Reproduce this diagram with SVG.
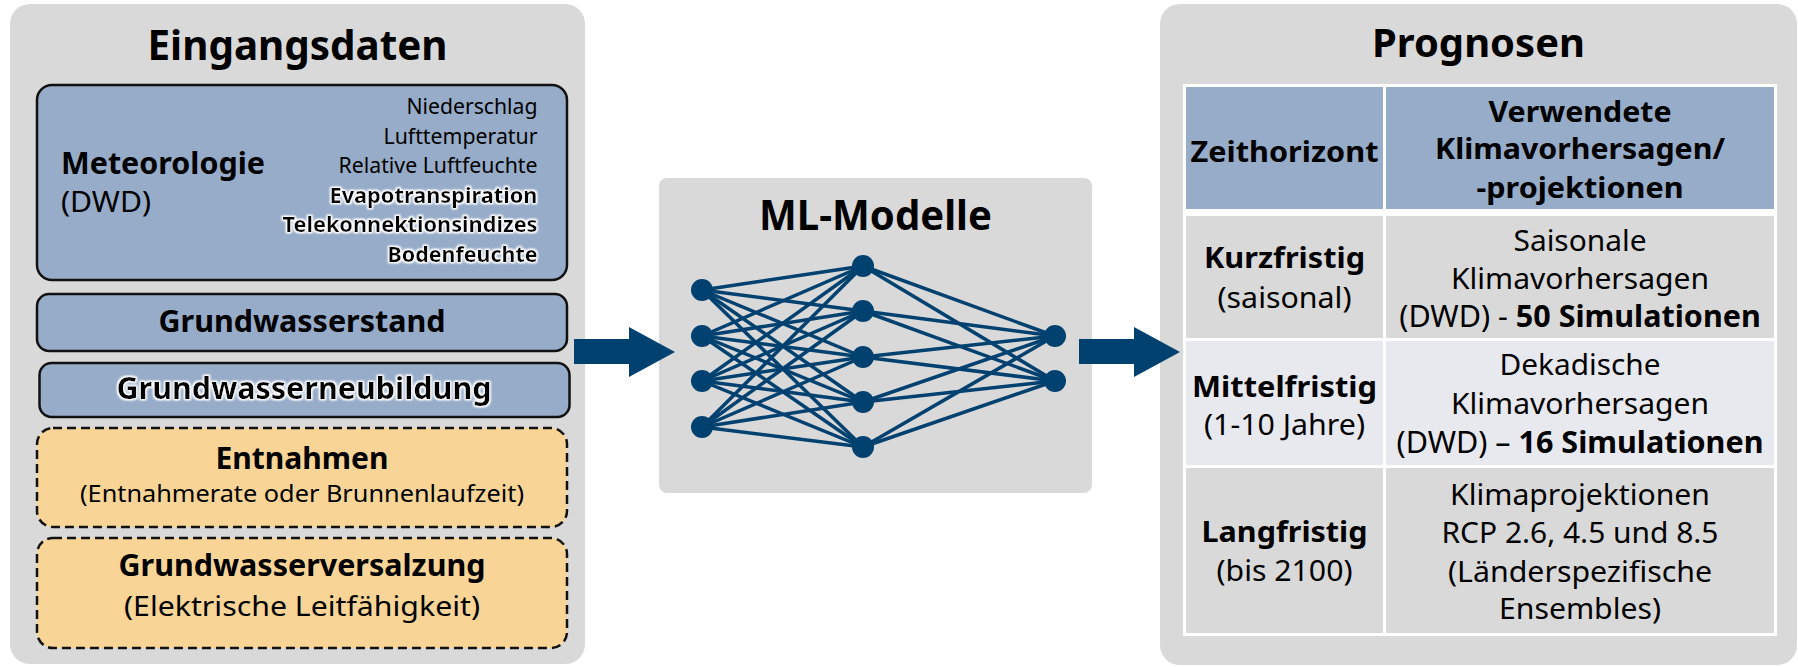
<svg xmlns="http://www.w3.org/2000/svg" width="1798" height="667" viewBox="0 0 1798 667">
<defs>
<style>
.panel{fill:#d9d9d9}
.blue{fill:#97acc8;stroke:#111;stroke-width:2.5}
.orange{fill:#f8d597;stroke:#111;stroke-width:2.5;stroke-dasharray:9 5}
text{font-family:"Noto Sans","Open Sans","Liberation Sans",sans-serif;fill:#000}
.b{font-weight:bold}
.t{font-size:29px}
.m{text-anchor:middle}
.e{text-anchor:end}
.s{font-size:21.5px}
.nn line{stroke:#00416f;stroke-width:3.5}
.nn circle{fill:#00416f}
.arrow{fill:#00416f}
</style>
<filter id="glow" x="-10%" y="-30%" width="120%" height="160%">
<feMorphology in="SourceAlpha" operator="dilate" radius="1" result="d"/>
<feGaussianBlur in="d" stdDeviation="1.3" result="bl"/>
<feFlood flood-color="#ffffff"/>
<feComposite in2="bl" operator="in" result="g"/>
<feMerge><feMergeNode in="g"/><feMergeNode in="g"/><feMergeNode in="SourceGraphic"/></feMerge>
</filter>
</defs>

<g id="eingangsdaten">
<rect class="panel" x="10" y="4" width="575" height="660" rx="20"/>
<text class="b m" x="297.5" y="60" font-size="42" textLength="300" lengthAdjust="spacingAndGlyphs">Eingangsdaten</text>
</g>

<g id="meteorologie">
<rect class="blue" x="37" y="85" width="530" height="195" rx="15"/>
<text class="b" x="61" y="174" font-size="31" textLength="204" lengthAdjust="spacingAndGlyphs">Meteorologie</text>
<text x="61" y="212" font-size="29" textLength="90" lengthAdjust="spacingAndGlyphs">(DWD)</text>
<text class="s e" x="537.5" y="114" textLength="131" lengthAdjust="spacingAndGlyphs">Niederschlag</text>
<text class="s e" x="537.5" y="144" textLength="154" lengthAdjust="spacingAndGlyphs">Lufttemperatur</text>
<text class="s e" x="537.5" y="173" textLength="199" lengthAdjust="spacingAndGlyphs">Relative Luftfeuchte</text>
<text class="s e b" x="537.5" y="203" textLength="208" lengthAdjust="spacingAndGlyphs" filter="url(#glow)">Evapotranspiration</text>
<text class="s e b" x="537.5" y="232" textLength="255" lengthAdjust="spacingAndGlyphs" filter="url(#glow)">Telekonnektionsindizes</text>
<text class="s e b" x="537.5" y="262" textLength="150" lengthAdjust="spacingAndGlyphs" filter="url(#glow)">Bodenfeuchte</text>
</g>

<g id="grundwasserstand">
<rect class="blue" x="37" y="294" width="530" height="57" rx="12"/>
<text class="b m" x="302" y="332" font-size="30" textLength="287" lengthAdjust="spacingAndGlyphs">Grundwasserstand</text>
</g>

<g id="grundwasserneubildung">
<rect class="blue" x="39.5" y="363" width="530" height="54" rx="12"/>
<text class="b m" x="304" y="399" font-size="30" textLength="375" lengthAdjust="spacingAndGlyphs" filter="url(#glow)">Grundwasserneubildung</text>
</g>

<g id="entnahmen">
<rect class="orange" x="37" y="428" width="530" height="99" rx="16"/>
<text class="b m" x="302" y="469" font-size="30" textLength="173" lengthAdjust="spacingAndGlyphs">Entnahmen</text>
<text class="m" x="302" y="502" font-size="23" textLength="444" lengthAdjust="spacingAndGlyphs">(Entnahmerate oder Brunnenlaufzeit)</text>
</g>

<g id="grundwasserversalzung">
<rect class="orange" x="37" y="538" width="530" height="110" rx="16"/>
<text class="b m" x="302" y="576" font-size="30" textLength="367" lengthAdjust="spacingAndGlyphs">Grundwasserversalzung</text>
<text class="m" x="302" y="616" font-size="28" textLength="356" lengthAdjust="spacingAndGlyphs">(Elektrische Leitfähigkeit)</text>
</g>

<g id="ml-modelle">
<rect class="panel" x="659" y="178" width="433" height="315" rx="8"/>
<text class="b m" x="875.5" y="230" font-size="42" textLength="233" lengthAdjust="spacingAndGlyphs">ML-Modelle</text>
<g class="nn">
<line x1="702" y1="290" x2="863" y2="266"/><line x1="702" y1="290" x2="863" y2="311"/><line x1="702" y1="290" x2="863" y2="357"/><line x1="702" y1="290" x2="863" y2="402"/><line x1="702" y1="290" x2="863" y2="447"/>
<line x1="702" y1="336" x2="863" y2="266"/><line x1="702" y1="336" x2="863" y2="311"/><line x1="702" y1="336" x2="863" y2="357"/><line x1="702" y1="336" x2="863" y2="402"/><line x1="702" y1="336" x2="863" y2="447"/>
<line x1="702" y1="381" x2="863" y2="266"/><line x1="702" y1="381" x2="863" y2="311"/><line x1="702" y1="381" x2="863" y2="357"/><line x1="702" y1="381" x2="863" y2="402"/><line x1="702" y1="381" x2="863" y2="447"/>
<line x1="702" y1="427" x2="863" y2="266"/><line x1="702" y1="427" x2="863" y2="311"/><line x1="702" y1="427" x2="863" y2="357"/><line x1="702" y1="427" x2="863" y2="402"/><line x1="702" y1="427" x2="863" y2="447"/>
<line x1="863" y1="266" x2="1055" y2="336"/><line x1="863" y1="266" x2="1055" y2="381"/>
<line x1="863" y1="311" x2="1055" y2="336"/><line x1="863" y1="311" x2="1055" y2="381"/>
<line x1="863" y1="357" x2="1055" y2="336"/><line x1="863" y1="357" x2="1055" y2="381"/>
<line x1="863" y1="402" x2="1055" y2="336"/><line x1="863" y1="402" x2="1055" y2="381"/>
<line x1="863" y1="447" x2="1055" y2="336"/><line x1="863" y1="447" x2="1055" y2="381"/>
<circle cx="702" cy="290" r="11"/><circle cx="702" cy="336" r="11"/><circle cx="702" cy="381" r="11"/><circle cx="702" cy="427" r="11"/>
<circle cx="863" cy="266" r="11"/><circle cx="863" cy="311" r="11"/><circle cx="863" cy="357" r="11"/><circle cx="863" cy="402" r="11"/><circle cx="863" cy="447" r="11"/>
<circle cx="1055" cy="336" r="11"/><circle cx="1055" cy="381" r="11"/>
</g>
</g>

<g id="prognosen">
<rect class="panel" x="1160" y="4" width="637" height="661" rx="20"/>
<text class="b m" x="1478.5" y="57" font-size="40" textLength="213" lengthAdjust="spacingAndGlyphs">Prognosen</text>
<rect x="1183" y="84" width="594" height="552" fill="#ffffff"/>
<rect x="1186" y="87" width="197" height="122" fill="#97acc8"/>
<rect x="1386" y="87" width="388" height="122" fill="#97acc8"/>
<rect x="1186" y="216" width="197" height="122" fill="#d9d9d9"/>
<rect x="1386" y="216" width="388" height="122" fill="#d9d9d9"/>
<rect x="1186" y="341" width="197" height="124" fill="#e8e9ee"/>
<rect x="1386" y="341" width="388" height="124" fill="#e8e9ee"/>
<rect x="1186" y="468" width="197" height="165" fill="#d9d9d9"/>
<rect x="1386" y="468" width="388" height="165" fill="#d9d9d9"/>
<text class="t b m" x="1284.5" y="162" textLength="188" lengthAdjust="spacingAndGlyphs">Zeithorizont</text>
<text class="t b m" x="1580" y="122" textLength="183" lengthAdjust="spacingAndGlyphs">Verwendete</text>
<text class="t b m" x="1580" y="159" textLength="290" lengthAdjust="spacingAndGlyphs">Klimavorhersagen/</text>
<text class="t b m" x="1580" y="198" textLength="207" lengthAdjust="spacingAndGlyphs">-projektionen</text>
<text class="t b m" x="1284.5" y="268" textLength="161" lengthAdjust="spacingAndGlyphs">Kurzfristig</text>
<text class="t m" x="1284.5" y="308" textLength="134" lengthAdjust="spacingAndGlyphs">(saisonal)</text>
<text class="t m" x="1580" y="251" textLength="133" lengthAdjust="spacingAndGlyphs">Saisonale</text>
<text class="t m" x="1580" y="289" textLength="258" lengthAdjust="spacingAndGlyphs">Klimavorhersagen</text>
<text class="m" x="1580" y="327" font-size="30.5">(DWD) - <tspan class="b">50 Simulationen</tspan></text>
<text class="t b m" x="1284.5" y="397" textLength="185" lengthAdjust="spacingAndGlyphs">Mittelfristig</text>
<text class="t m" x="1284.5" y="435" textLength="161" lengthAdjust="spacingAndGlyphs">(1-10 Jahre)</text>
<text class="t m" x="1580" y="375" textLength="161" lengthAdjust="spacingAndGlyphs">Dekadische</text>
<text class="t m" x="1580" y="414" textLength="258" lengthAdjust="spacingAndGlyphs">Klimavorhersagen</text>
<text class="m" x="1580" y="453" font-size="30.5">(DWD) – <tspan class="b">16 Simulationen</tspan></text>
<text class="t b m" x="1284.5" y="542" textLength="166" lengthAdjust="spacingAndGlyphs">Langfristig</text>
<text class="t m" x="1284.5" y="581" textLength="136" lengthAdjust="spacingAndGlyphs">(bis 2100)</text>
<text class="t m" x="1580" y="505" textLength="260" lengthAdjust="spacingAndGlyphs">Klimaprojektionen</text>
<text class="t m" x="1580" y="543" textLength="277" lengthAdjust="spacingAndGlyphs">RCP 2.6, 4.5 und 8.5</text>
<text class="t m" x="1580" y="582" textLength="264" lengthAdjust="spacingAndGlyphs">(Länderspezifische</text>
<text class="t m" x="1580" y="619" textLength="162" lengthAdjust="spacingAndGlyphs">Ensembles)</text>
</g>

<g id="connectors">
<polygon class="arrow" points="574,339 629,339 629,327 675,352 629,377 629,364 574,364"/>
<polygon class="arrow" points="1079,339 1134,339 1134,327 1180,352 1134,377 1134,364 1079,364"/>
</g>
</svg>
